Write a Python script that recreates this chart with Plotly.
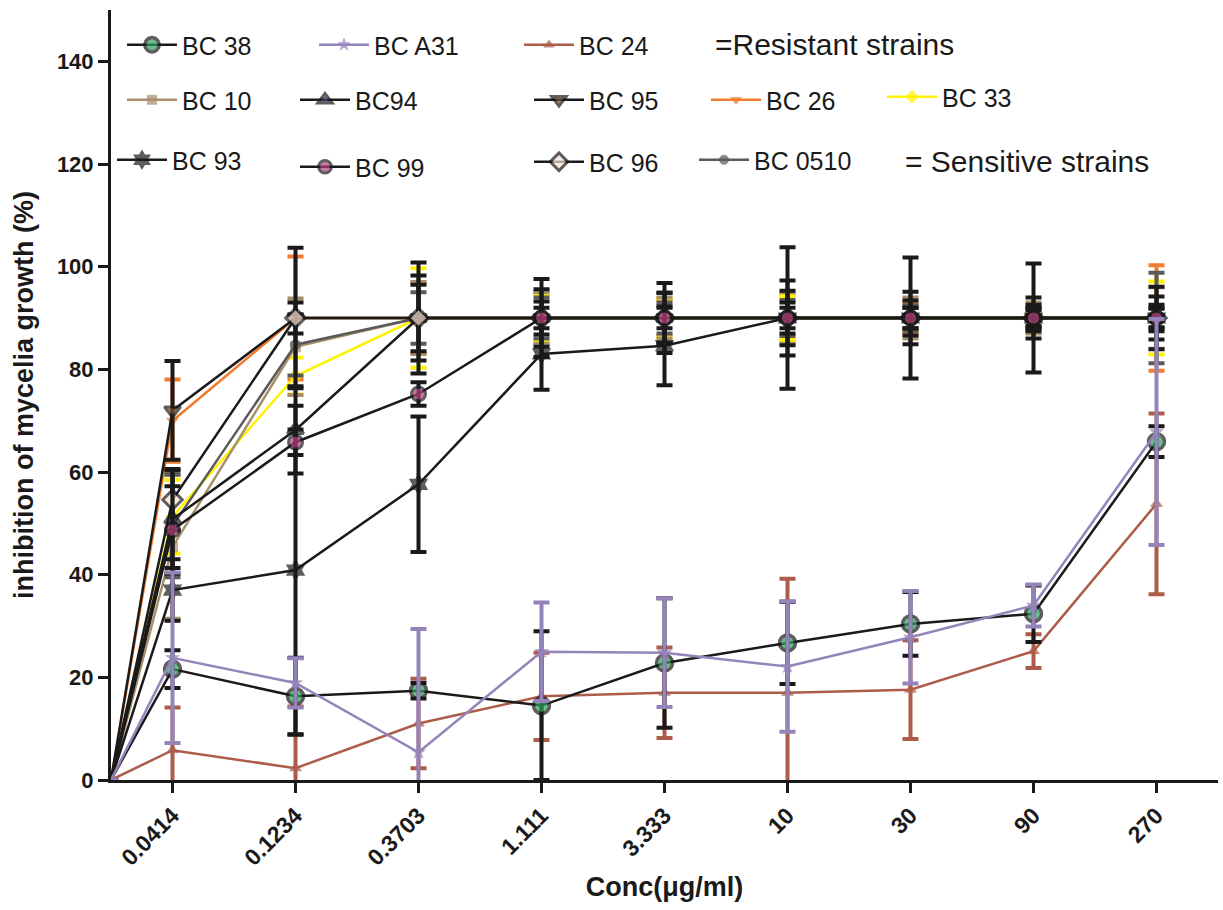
import plotly.graph_objects as go

# Concentrations (µg/ml) on the x axis, plotted at equally spaced positions
conc_labels = ["0.0414", "0.1234", "0.3703", "1.111", "3.333", "10", "30", "90", "270"]

# Mean inhibition of mycelial growth (%) per strain, and standard deviations
bc38 = [21.6, 16.3, 17.4, 14.5, 22.8, 26.7, 30.4, 32.4, 65.9]
bc38_sd = [3.7, 7.5, 1.5, 14.5, 12.6, 8.0, 6.2, 5.5, 3.0]

bca31 = [23.8, 18.9, 5.4, 25.0, 24.8, 22.1, 27.8, 34.0, 67.8]
bca31_sd = [16.6, 4.8, 24.0, 9.6, 10.6, 12.7, 9.0, 4.1, 22.0]

bc24 = [5.8, 2.3, 11.0, 16.3, 17.0, 17.0, 17.6, 25.1, 53.8]
bc24_sd = [8.3, 12.0, 8.7, 8.5, 8.8, 22.2, 9.6, 3.3, 17.6]

bc10 = [45.4, 84.4, 90, 90, 90, 90, 90, 90, 90]
bc10_sd = [14.0, 9.4, 7.0, 5.0, 4.0, 5.0, 4.0, 3.0, 6.0]

bc94 = [50.8, 68.2, 90, 90, 90, 90, 90, 90, 90]
bc94_sd = [9.5, 8.5, 6.5, 3.2, 4.9, 7.3, 5.1, 4.0, 4.2]

bc95 = [72.0, 90, 90, 90, 90, 90, 90, 90, 90]
bc95_sd = [9.6, 13.7, 10.8, 7.6, 6.8, 13.8, 11.8, 10.6, 6.1]

bc26 = [70.0, 90, 90, 90, 90, 90, 90, 90, 90]
bc26_sd = [8.0, 12.0, 6.9, 5.0, 3.5, 4.5, 3.0, 2.0, 10.3]

bc33 = [51.3, 78.7, 90, 90, 90, 90, 90, 90, 90]
bc33_sd = [7.2, 3.6, 9.7, 4.6, 3.8, 4.3, 2.3, 1.5, 7.1]

bc93 = [37.0, 40.9, 57.6, 83.0, 84.6, 90, 90, 90, 90]
bc93_sd = [6.0, 32.0, 13.2, 7.0, 7.7, 5.3, 3.4, 2.6, 1.8]

bc99 = [48.7, 65.8, 75.2, 90, 90, 90, 90, 90, 90]
bc99_sd = [8.5, 2.5, 2.3, 2.0, 2.0, 2.0, 2.0, 2.0, 2.0]

bc96 = [54.6, 90, 90, 90, 90, 90, 90, 90, 90]
bc96_sd = [6.0, 3.0, 8.3, 5.6, 4.9, 3.0, 2.0, 1.5, 2.6]

bc0510 = [49.5, 84.8, 90, 90, 90, 90, 90, 90, 90]
bc0510_sd = [10.0, 6.0, 5.0, 4.0, 3.0, 3.5, 2.5, 2.0, 8.8]

W, H = 1223, 910
M_L, M_R, M_T, M_B = 111, 5, 10, 130
PW, PH = W - M_L - M_R, H - M_T - M_B
BLACK = "#1a1a1a"
FONT = "Liberation Sans, Arial"


def paper_x(px):
    return (px - M_L) / PW


def paper_y(py):
    return (H - M_B - py) / PH


# every curve starts from zero growth inhibition at the axis origin
x_pos = [0.5] + list(range(1, len(conc_labels) + 1))


def with_origin(vals):
    return [0] + list(vals)


# name, values, sd, line colour, symbol, marker fill, marker outline, size, outline width, legend slot (px)
series = [
    ("BC 26", bc26, bc26_sd, "#f37b2d", "triangle-down", "#f37b2d", "#f37b2d", 10, 1, (706, 100)),
    ("BC 33", bc33, bc33_sd, "#fff200", "diamond", "#fff200", "#fff200", 11, 1, (882, 97)),
    ("BC 10", bc10, bc10_sd, "#a8906a", "square", "#a8906a", "#a8906a", 10, 1, (122, 100)),
    ("BC 0510", bc0510, bc0510_sd, "#5a5a5a", "circle", "#5a5a5a", "#5a5a5a", 10, 1, (694, 160)),
    ("BC 95", bc95, bc95_sd, BLACK, "triangle-down", "#7a5230", BLACK, 14, 3, (529, 100)),
    ("BC94", bc94, bc94_sd, BLACK, "triangle-up", "#4b3a7a", BLACK, 14, 3, (295, 100)),
    ("BC 96", bc96, bc96_sd, BLACK, "diamond", "#fde2d2", BLACK, 15, 3, (529, 162)),
    ("BC 93", bc93, bc93_sd, BLACK, "hexagram", BLACK, BLACK, 14, 2, (112, 160)),
    ("BC 99", bc99, bc99_sd, BLACK, "circle", "#b3407e", BLACK, 14, 3, (295, 167)),
    ("BC 24", bc24, bc24_sd, "#ad5c4a", "triangle-up", "#ad5c4a", "#ad5c4a", 10, 1, (519, 45)),
    ("BC 38", bc38, bc38_sd, BLACK, "circle", "#2ca05a", BLACK, 16, 3.5, (122, 45)),
    ("BC A31", bca31, bca31_sd, "#9484ba", "star", "#9484ba", "#9484ba", 10, 1, (314, 45)),
]

fig = go.Figure()
layout_legends = {}
for i, (name, vals, sd, col, sym, fill, edge, size, ew, slot) in enumerate(series):
    key = "legend" if i == 0 else f"legend{i + 1}"
    sizes = [0] + [size] * len(vals)
    fig.add_trace(go.Scatter(
        x=x_pos, y=with_origin(vals), name=name, mode="lines+markers",
        line=dict(color=col, width=2.5),
        marker=dict(symbol=sym, size=sizes, color=fill, line=dict(color=edge, width=ew)),
        error_y=dict(type="data", array=with_origin(sd), color=col,
                     thickness=4, width=8),
        legend=key, showlegend=True,
    ))
    layout_legends[key] = dict(
        xref="paper", yref="paper",
        x=paper_x(slot[0]), y=paper_y(slot[1]), xanchor="left", yanchor="middle",
        bgcolor="rgba(0,0,0,0)", borderwidth=0, itemwidth=50,
        font=dict(family=FONT, size=25, color=BLACK),
    )

for text, px, py in [("=Resistant strains", 713, 44), ("= Sensitive strains", 903, 162)]:
    fig.add_annotation(text=text, xref="paper", yref="paper",
                       x=paper_x(px), y=paper_y(py),
                       xanchor="left", yanchor="middle", showarrow=False,
                       font=dict(family=FONT, size=30, color=BLACK))

axis_common = dict(
    showline=True, linecolor=BLACK, linewidth=3, mirror=False,
    ticks="outside", ticklen=10, tickwidth=3, tickcolor=BLACK,
    showgrid=False, zeroline=False, automargin=False,
)

fig.update_layout(
    width=W, height=H,
    margin=dict(l=M_L, r=M_R, t=M_T, b=M_B, autoexpand=False),
    plot_bgcolor="white", paper_bgcolor="white",
    font=dict(family=FONT, color=BLACK),
    xaxis=dict(
        range=[0.5, 9.5], tickmode="array",
        tickvals=list(range(1, len(conc_labels) + 1)), ticktext=conc_labels,
        tickangle=-45, tickfont=dict(size=23, weight="bold"),
        title=dict(text="Conc(\u03bcg/ml)", font=dict(size=27, weight="bold"), standoff=8),
        **axis_common,
    ),
    yaxis=dict(
        range=[0, 150], tickmode="array", tickvals=list(range(0, 141, 20)),
        tickfont=dict(size=22, weight="bold"),
        title=dict(text="inhibition of mycelia growth (%)", font=dict(size=27, weight="bold"), standoff=16),
        **axis_common,
    ),
    **layout_legends,
)

fig.write_html("out.html")
